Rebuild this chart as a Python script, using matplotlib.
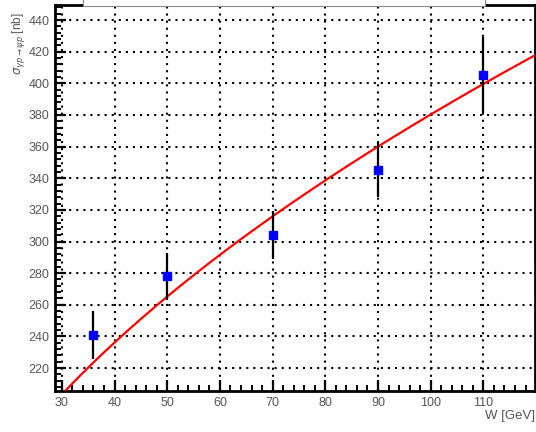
import numpy as np
import matplotlib
matplotlib.use("Agg")
import matplotlib.pyplot as plt
from matplotlib.ticker import MultipleLocator
from matplotlib.patches import Rectangle

# Measured cross sections
W_vals = [36, 50, 70, 90, 110]          # GeV
sigma_vals = [241, 278, 304, 345, 405]  # nb
sigma_errs = [15, 15, 15, 17, 24]       # nb

# Power-law fit: sigma = norm * (W / W0)^delta
fit_norm = 360.0
fit_W0 = 90.0
fit_delta = 0.52
fit_range = [28.0, 121.0]

x_lim = (28.7, 119.8)
y_lim = (205.5, 449.5)

plt.rcParams['font.family'] = ['Liberation Sans', 'DejaVu Sans']

fig = plt.figure(figsize=(5.36, 4.32), dpi=100)
ax = fig.add_axes([55 / 536, 41 / 432, 480 / 536, 386 / 432])

# Dotted grid at the major ticks
grid_kw = dict(color='black', lw=1.5, dashes=(1, 2.4), zorder=1)
ax.xaxis.set_major_locator(MultipleLocator(10))
ax.xaxis.set_minor_locator(MultipleLocator(2))
ax.yaxis.set_major_locator(MultipleLocator(20))
ax.yaxis.set_minor_locator(MultipleLocator(4))
ax.set_xlim(*x_lim)
ax.set_ylim(*y_lim)
for xv in np.arange(30, 120, 10):
    ax.axvline(xv, **grid_kw)
for yv in np.arange(220, 450, 20):
    ax.axhline(yv, **grid_kw)

# Fit curve
wf = np.linspace(fit_range[0], fit_range[1], 400)
ax.plot(wf, fit_norm * (wf / fit_W0) ** fit_delta, color='red', lw=1.6, zorder=3)

# Data with errors
ax.errorbar(W_vals, sigma_vals, yerr=sigma_errs, fmt='s', color='blue',
            ms=5.2, mec='blue', ecolor='black', elinewidth=1.6, capsize=0,
            zorder=4)

for side in ['left', 'bottom', 'top', 'right']:
    ax.spines[side].set_linewidth(2.0)
    ax.spines[side].set_color('black')

ax.tick_params(axis='both', which='major', direction='in', length=8, width=1.6,
               labelsize=9, labelcolor='#555555', pad=4)
ax.tick_params(axis='both', which='minor', direction='in', length=4, width=1.4)
ax.tick_params(top=False, right=False, which='both')

ax.set_xlabel('W [GeV]', fontsize=9.5, color='#555555', loc='right', labelpad=1)
ax.set_ylabel(r'$\sigma_{\gamma p\rightarrow \psi p}$ [nb]', fontsize=8.5,
              color='#555555', loc='top')
ax.yaxis.set_label_coords(-0.058, 0.982)

# Title pave overlapping the top of the frame
fig.patches.append(Rectangle((83 / 536, 426 / 432), (485 - 83) / 536, 0.05,
                             transform=fig.transFigure, facecolor='white',
                             edgecolor='#888888', lw=0.8, zorder=10))

fig.savefig('out.png', dpi=100)
